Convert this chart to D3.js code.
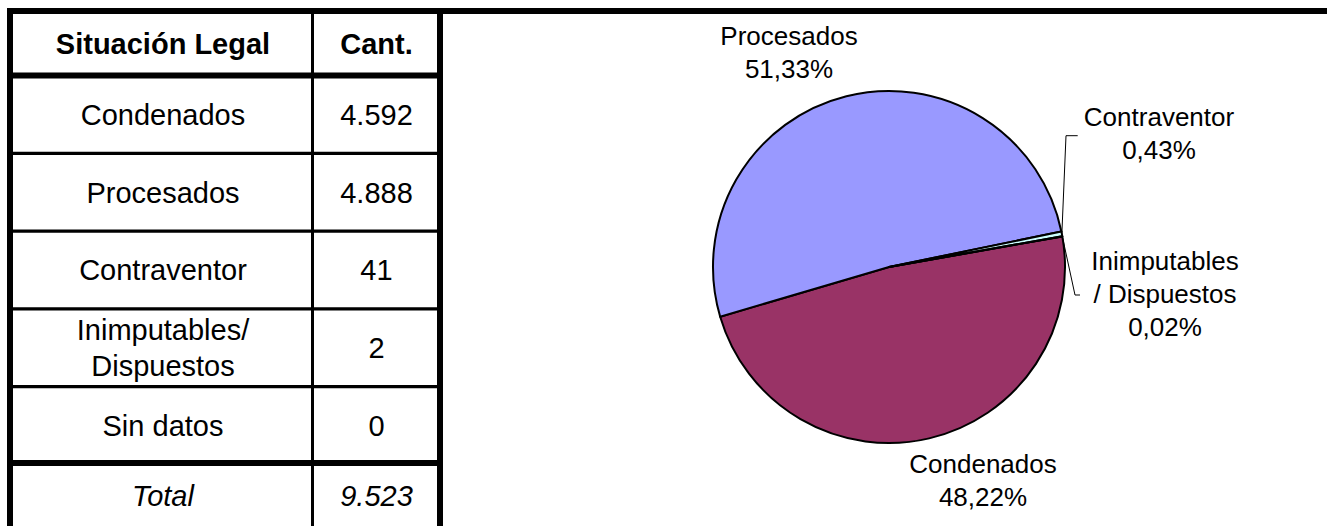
<!DOCTYPE html>
<html>
<head>
<meta charset="utf-8">
<script src="https://cdn.jsdelivr.net/npm/d3@7/dist/d3.min.js"></script>
<style>
  html, body { margin: 0; padding: 0; background: #fff; }
  svg { display: block; }
  text { font-family: "Liberation Sans", Arial, sans-serif; fill: #000; }
</style>
</head>
<body>
<svg id="chart" width="1327" height="526"></svg>
<script>
// ---- data ----
const headers = ["Situación Legal", "Cant."];
const categories = ["Condenados", "Procesados", "Contraventor", "Inimputables/\nDispuestos", "Sin datos"];
const counts = [4592, 4888, 41, 2, 0];
const totalLabel = "Total";
const pieLabels = ["Condenados", "Procesados", "Contraventor", "Inimputables\n/ Dispuestos", "Sin datos"];
const sliceColors = ["#993366", "#9999FF", "#CCFFFF", "#FFFFCC", "#660066"];

// ---- setup ----
const svg = d3.select("#chart");
const loc = d3.formatLocale({ decimal: ",", thousands: ".", grouping: [3], currency: ["", "€"] });
const fmtInt = loc.format(",d");
const fmtPct = loc.format(".2%");
const total = d3.sum(counts);

// ---- table ----
const tableX = d3.scaleOrdinal().domain(["cat", "val"]).range([163, 376.5]);
const rowKeys = categories.concat([totalLabel]);
const yRow = d3.scaleBand().domain(rowKeys).range([75.5, 75.5 + 6 * 77.8]);
const headerTop = 11, headerBottom = 75.5;
const fsT = 29;

// header
svg.selectAll("text.hdr").data(headers).join("text")
  .attr("class", "hdr")
  .attr("x", (d, i) => tableX(i === 0 ? "cat" : "val"))
  .attr("y", (headerTop + headerBottom) / 2 + fsT * 0.36)
  .attr("text-anchor", "middle")
  .attr("font-size", fsT).attr("font-weight", "bold")
  .text(d => d);

const rows = categories.map((c, i) => ({ key: c, cat: c, val: fmtInt(counts[i]), italic: false }))
  .concat([{ key: totalLabel, cat: totalLabel, val: fmtInt(total), italic: true }]);

const lh = 35.7;
rows.forEach(r => {
  const cy = yRow(r.key) + yRow.bandwidth() / 2 - (r.italic ? 7.5 : 0);
  const lines = r.cat.split("\n");
  const t = svg.append("text")
    .attr("x", tableX("cat"))
    .attr("text-anchor", "middle")
    .attr("font-size", fsT)
    .attr("font-style", r.italic ? "italic" : null);
  lines.forEach((ln, j) => {
    t.append("tspan").attr("x", tableX("cat"))
      .attr("y", cy + fsT * 0.36 + (j - (lines.length - 1) / 2) * lh)
      .text(ln);
  });
  svg.append("text")
    .attr("x", tableX("val"))
    .attr("y", cy + fsT * 0.36)
    .attr("text-anchor", "middle")
    .attr("font-size", fsT)
    .attr("font-style", r.italic ? "italic" : null)
    .text(r.val);
});

// grid lines
const g = svg.append("g").attr("stroke", "#000");
// top frame line across full width
g.append("line").attr("x1", 7).attr("x2", 1327).attr("y1", 11).attr("y2", 11).attr("stroke-width", 6);
// left border
g.append("line").attr("x1", 10).attr("x2", 10).attr("y1", 8).attr("y2", 526).attr("stroke-width", 6);
// right border
g.append("line").attr("x1", 440).attr("x2", 440).attr("y1", 8).attr("y2", 526).attr("stroke-width", 6);
// middle column
g.append("line").attr("x1", 312.5).attr("x2", 312.5).attr("y1", 11).attr("y2", 526).attr("stroke-width", 3);
// header bottom
g.append("line").attr("x1", 10).attr("x2", 440).attr("y1", headerBottom).attr("y2", headerBottom).attr("stroke-width", 6);
// row separators
categories.slice(1).forEach(c => {
  g.append("line").attr("x1", 10).attr("x2", 440)
    .attr("y1", yRow(c)).attr("y2", yRow(c)).attr("stroke-width", 3.2);
});
// total separator
g.append("line").attr("x1", 10).attr("x2", 440)
  .attr("y1", yRow(totalLabel) - 1.5).attr("y2", yRow(totalLabel) - 1.5).attr("stroke-width", 6);

// ---- pie ----
const cx = 889, cy = 267, R = 176;
const start = 80 * Math.PI / 180;
const pie = d3.pie().sort(null).value(d => d.v).startAngle(start).endAngle(start + 2 * Math.PI);
const pdata = pie(categories.map((c, i) => ({ c, v: counts[i], i })));
const arc = d3.arc().innerRadius(0).outerRadius(R);

const pg = svg.append("g").attr("transform", `translate(${cx},${cy})`);
pg.selectAll("path").data(pdata.filter(d => d.data.v > 0)).join("path")
  .attr("d", arc)
  .attr("fill", d => sliceColors[d.data.i])
  .attr("stroke", "#000")
  .attr("stroke-width", 2)
  .attr("stroke-linejoin", "round");

// labels (layout offsets relative to pie centre)
const fsL = 26, lhL = 33;
const labelLayout = {
  "Procesados": { dx: -100, dy: -222 },
  "Condenados": { dx: 94, dy: 206 },
  "Contraventor": { dx: 270, dy: -141, leader: [[177, -131.3], [188.7, -131.3]] },
  "Inimputables/\nDispuestos": { dx: 276, dy: 3, leader: [[186, 28], [191, 28]] }
};
pdata.forEach(d => {
  const lay = labelLayout[d.data.c];
  if (!lay || d.data.v === 0) return;
  const lines = pieLabels[d.data.i].split("\n").concat([fmtPct(d.data.v / total)]);
  const t = pg.append("text").attr("text-anchor", "middle").attr("font-size", fsL);
  lines.forEach((ln, j) => {
    t.append("tspan").attr("x", lay.dx).attr("y", lay.dy + j * lhL).text(ln);
  });
  if (lay.leader) {
    const a = (d.startAngle + d.endAngle) / 2;
    const p0 = [R * Math.sin(a), -R * Math.cos(a)];
    pg.append("polyline")
      .attr("points", [p0].concat(lay.leader).map(p => p.join(",")).join(" "))
      .attr("fill", "none").attr("stroke", "#000").attr("stroke-width", 1);
  }
});
</script>
</body>
</html>
